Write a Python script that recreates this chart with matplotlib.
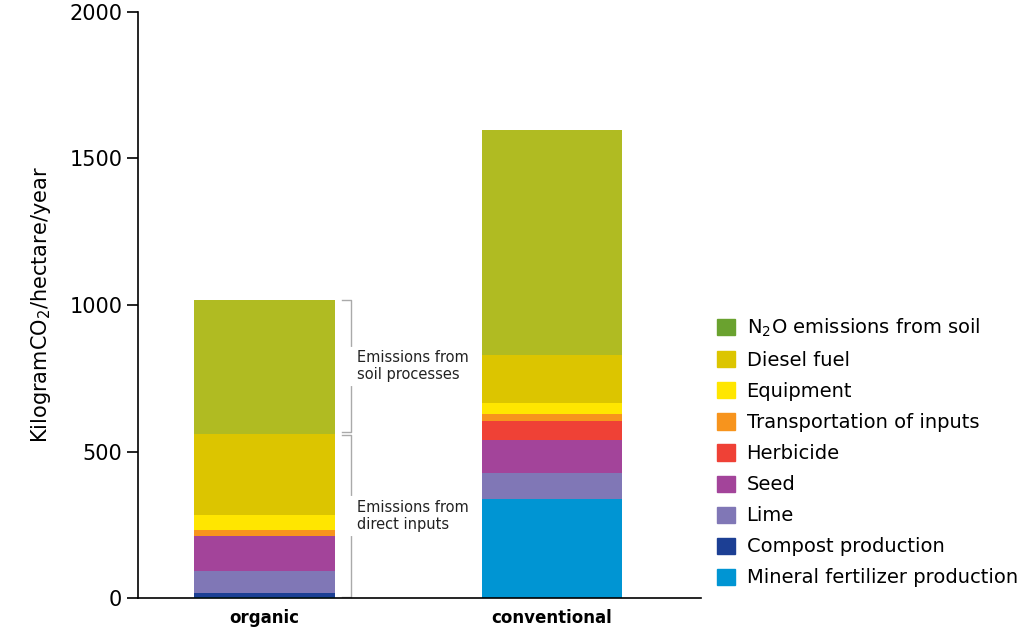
import numpy as np
import matplotlib.pyplot as plt
from matplotlib.patches import Patch

systems = ['organic', 'conventional']
categories = ['Mineral fertilizer production', 'Compost production', 'Lime', 'Seed', 'Herbicide',
              'Transportation of inputs', 'Equipment', 'Diesel fuel', 'N$_2$O emissions from soil']
# kg CO2 / ha / year, per segment
organic = [5, 12, 75, 120, 0, 20, 51, 277, 457]
conventional = [338, 0, 89, 112, 65, 24, 38, 163, 768]
bar_colors = ['#0095d3', '#1c3f94', '#8077b6', '#a3449a', '#ef4136', '#f7941d', '#ffe600', '#dcc500', '#b0bb22']
legend_colors = bar_colors[:-1] + ['#6aa22f']

fig = plt.figure(figsize=(10.24, 6.44), dpi=100)
ax = fig.add_axes([0.135, 0.0714, 0.55, 0.91])

x = np.arange(len(systems))
bottom = np.zeros(2)
for i, cat in enumerate(categories):
    vals = np.array([organic[i], conventional[i]])
    ax.bar(x, vals, 0.49, bottom=bottom, color=bar_colors[i], linewidth=0)
    bottom += vals

ax.set_xlim(-0.44, 1.52)
ax.set_ylim(0, 2000)
ax.set_yticks([0, 500, 1000, 1500, 2000])
ax.tick_params(axis='y', labelsize=15, length=8, width=1.2)
ax.tick_params(axis='x', length=0, pad=8)
ax.set_xticks(x)
ax.set_xticklabels(systems, fontsize=12, fontweight='bold')
ax.set_ylabel('KilogramCO$_2$/hectare/year', fontsize=15, labelpad=12)
for s in ['top', 'right']:
    ax.spines[s].set_visible(False)
ax.spines['left'].set_linewidth(1.2)
ax.spines['bottom'].set_linewidth(1.2)

# brackets beside organic bar
cum = np.cumsum(organic)
direct_top = cum[-2]
total = cum[-1]
bx = 0.245 + 0.025
for lo, hi, label in [(5, direct_top - 5, 'Emissions from\ndirect inputs'),
                      (direct_top + 5, total, 'Emissions from\nsoil processes')]:
    ax.plot([bx, bx + 0.03, bx + 0.03, bx], [lo, lo, hi, hi], color='#aaaaaa', lw=1)
    mid = (lo + hi) / 2
    ax.plot([bx + 0.03, bx + 0.03], [mid - 60, mid + 60], color='white', lw=3)
    ax.text(bx + 0.05, mid, label, fontsize=10.5, va='center', ha='left', color='#222222')

handles = [Patch(color=c, label=l) for c, l in zip(legend_colors, categories)][::-1]
fig.legend(handles=handles, loc='center left', bbox_to_anchor=(0.693, 0.298), frameon=False,
           fontsize=14, handlelength=0.9, handleheight=0.9, handletextpad=0.6, labelspacing=0.62,
           borderaxespad=0)

fig.savefig('out.png', dpi=100)
